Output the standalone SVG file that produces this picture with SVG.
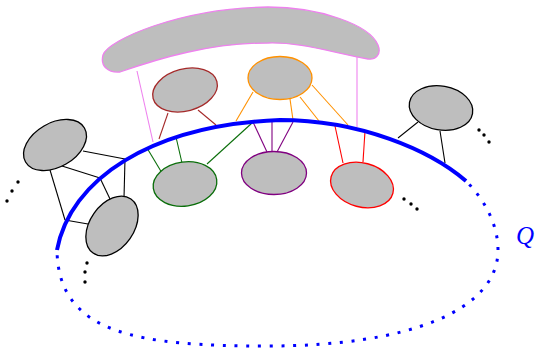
<svg xmlns="http://www.w3.org/2000/svg" width="536" height="350" viewBox="0 0 536 350">
  <style>
    .node { fill: #bebebe; stroke-width: 1.3; }
    .e { fill: none; stroke-width: 1.1; }
    .blk { stroke: #000; }
    .brn { stroke: #a52a2a; }
    .org { stroke: #ff9100; }
    .grn { stroke: #0a6e0a; }
    .pur { stroke: #800080; }
    .red { stroke: #ff0000; }
    .vio { stroke: #ee82ee; }
    .dot { fill: #000; }
  </style>

  <!-- connectors -->
  <g id="connectors">
    <!-- violet group to curve -->
    <line class="e vio" x1="137" y1="71" x2="153" y2="142"/>
    <line class="e vio" x1="357" y1="57" x2="357" y2="127"/>
    <!-- left black pair -->
    <line class="e blk" x1="50" y1="170" x2="65" y2="220"/>
    <line class="e blk" x1="65" y1="220" x2="88" y2="224"/>
    <line class="e blk" x1="62" y1="166" x2="100" y2="178"/>
    <line class="e blk" x1="100" y1="178" x2="110" y2="199"/>
    <line class="e blk" x1="83" y1="151" x2="125" y2="159"/>
    <line class="e blk" x1="125" y1="159" x2="124" y2="198"/>
    <!-- green -->
    <line class="e grn" x1="147" y1="148" x2="162" y2="173"/>
    <line class="e grn" x1="176" y1="137" x2="182" y2="163"/>
    <line class="e grn" x1="252" y1="123" x2="207" y2="164"/>
    <!-- brown -->
    <line class="e brn" x1="168" y1="113" x2="159" y2="139"/>
    <line class="e brn" x1="198" y1="110" x2="216" y2="125"/>
    <!-- orange -->
    <line class="e org" x1="253" y1="92" x2="236" y2="121"/>
    <line class="e org" x1="290" y1="99" x2="293" y2="120"/>
    <line class="e org" x1="300" y1="97" x2="319" y2="121"/>
    <line class="e org" x1="312" y1="85" x2="348" y2="125"/>
    <!-- purple -->
    <line class="e pur" x1="253" y1="122" x2="267" y2="152"/>
    <line class="e pur" x1="272" y1="122" x2="272" y2="152"/>
    <line class="e pur" x1="293" y1="122" x2="277" y2="152"/>
    <!-- red -->
    <line class="e red" x1="335" y1="126" x2="343" y2="163"/>
    <line class="e red" x1="365" y1="131" x2="363" y2="162"/>
    <!-- right black -->
    <line class="e blk" x1="418" y1="122" x2="398" y2="138"/>
    <line class="e blk" x1="440" y1="131" x2="445" y2="163"/>
  </g>

  <!-- region boundary Q -->
  <g id="Q">
    <path d="M57,250 C70,180 150,125 280,120 C360,120 430,150 466,181" fill="none" stroke="#0000ff" stroke-width="4"/>
    <path d="M466,181 C485,200 498,225 498,250 C498,310 410,346 268,346 C140,346 58,335 57,250" fill="none" stroke="#0000ff" stroke-width="3" stroke-dasharray="3 8.7" stroke-dashoffset="7"/>
    <text x="516" y="244" font-family="Liberation Serif, serif" font-style="italic" font-size="25" fill="#0000ff">Q</text>
  </g>

  <!-- nodes -->
  <g id="group-top">
    <path class="node vio" d="M120,72 C108,73 100,66 103,55 C108,40 180,8 268,7 C320,7 370,25 378,45 C382,55 375,60 368,59 C330,52 300,42 268,43 C210,43 160,58 120,72 Z"/>
  </g>
  <g id="node-brown">
    <ellipse class="node brn" cx="185" cy="90" rx="33" ry="21" transform="rotate(-15 185 90)"/>
  </g>
  <g id="node-orange">
    <ellipse class="node org" cx="280" cy="78" rx="32" ry="21.5"/>
  </g>
  <g id="node-green">
    <ellipse class="node grn" cx="185" cy="184" rx="32" ry="22" transform="rotate(-8 185 184)"/>
  </g>
  <g id="node-purple">
    <ellipse class="node pur" cx="274" cy="173" rx="32.5" ry="21.5"/>
  </g>
  <g id="node-red">
    <ellipse class="node red" cx="362" cy="185" rx="32" ry="22" transform="rotate(15 362 185)"/>
  </g>
  <g id="node-right">
    <ellipse class="node blk" cx="441" cy="108" rx="32" ry="22" transform="rotate(10 441 108)"/>
  </g>
  <g id="node-left-top">
    <ellipse class="node blk" cx="55" cy="145" rx="34" ry="22" transform="rotate(-30 55 145)"/>
  </g>
  <g id="node-left-bottom">
    <ellipse class="node blk" cx="112" cy="226" rx="33" ry="22" transform="rotate(-55 112 226)"/>
  </g>

  <!-- ellipses of further vertices -->
  <g id="more-dots">
    <circle class="dot" cx="18" cy="182" r="1.7"/>
    <circle class="dot" cx="12" cy="191" r="1.7"/>
    <circle class="dot" cx="7" cy="201" r="1.7"/>
    <circle class="dot" cx="87" cy="263" r="1.7"/>
    <circle class="dot" cx="85" cy="272" r="1.7"/>
    <circle class="dot" cx="85" cy="282" r="1.7"/>
    <circle class="dot" cx="404" cy="199" r="1.7"/>
    <circle class="dot" cx="411" cy="204" r="1.7"/>
    <circle class="dot" cx="417" cy="209" r="1.7"/>
    <circle class="dot" cx="479" cy="130" r="1.7"/>
    <circle class="dot" cx="484" cy="135" r="1.7"/>
    <circle class="dot" cx="489" cy="142" r="1.7"/>
  </g>
</svg>
